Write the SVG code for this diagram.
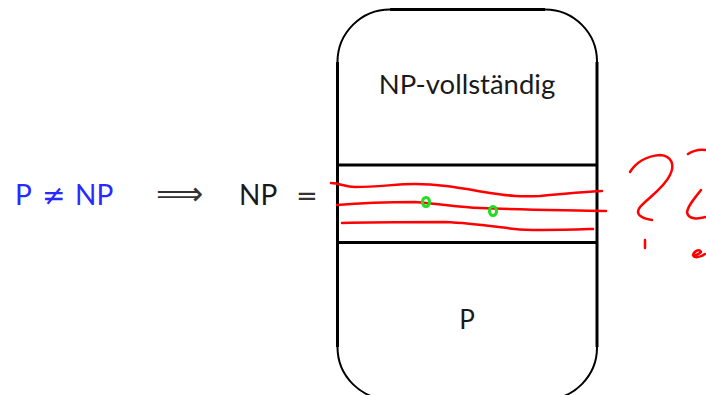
<svg xmlns="http://www.w3.org/2000/svg" width="706" height="395" viewBox="0 0 706 395">
<style>
.lbl{font-family:Lato,"Liberation Sans",sans-serif;fill:#1a1a1a}
.sym{font-family:"DejaVu Sans",sans-serif}
.blue{fill:#2a2aff}
.box{fill:none;stroke:#000;stroke-width:3}
.arc{fill:none;stroke:#000;stroke-width:2}
.red{fill:none;stroke:#ff0000;stroke-width:2.5;stroke-linecap:round;stroke-linejoin:round}
.grn{fill:none;stroke:#22dd22;stroke-width:3.2}
</style>
<rect width="706" height="395" fill="#fff"/>
<g id="formula">
<text x="15" y="205" class="lbl blue" font-size="28">P</text>
<text x="42" y="205" class="sym blue" font-size="28">≠</text>
<text x="75" y="205" class="lbl blue" font-size="28">NP</text>
<text x="156" y="205" class="sym" font-size="33" fill="#333">⟹</text>
<text x="239" y="205" class="lbl" font-size="28">NP</text>
<text x="296" y="205" class="sym" font-size="26" fill="#333">=</text>
</g>
<g id="np-box">
<path class="arc" d="M337.5 62 A52.5 52.5 0 0 1 390 9.5 M545 9.5 A52 52 0 0 1 597 62 M337.5 347 A52.5 52.5 0 0 0 390 399.5 M545 399.5 A52 52 0 0 0 597 347"/>
<path class="box" d="M390 9.5 H545 M337.5 62 V347 M597 62 V347 M337.5 165 H597 M337.5 242.5 H597"/>
</g>
<g id="np-complete"><text x="467" y="94" class="lbl" font-size="27.5" text-anchor="middle">NP-vollständig</text></g>
<g id="p-class"><text x="467" y="329" class="lbl" font-size="26" text-anchor="middle">P</text></g>
<g id="scribbles">
<path class="red" d="M331 183 C340 183 345 187 355 187 C380 187 395 184 415 184 C440 184 460 188 490 193 C510 196 520 197 540 196 C560 194 580 192 602 191"/>
<path class="red" d="M337 205 C360 203 390 202 415 202 C440 204 460 207 480 208 C520 210 560 210 606 211"/>
<path class="red" d="M342 223 C370 222 400 222 445 222 C470 223 490 226 515 229 C530 231 560 230 593 229"/>
<ellipse class="grn" cx="426" cy="202" rx="3.5" ry="4.5"/>
<ellipse class="grn" cx="493" cy="211" rx="3.5" ry="4.5"/>
<path class="red" d="M630 172 C635 164 645 156 660 155 C672 156 675 165 670 175 C664 188 648 198 640 207 C635 214 640 218 652 220"/>
<path class="red" d="M645 240 L645 248"/>
<path class="red" d="M688 154 C694 150 700 149 706 150"/>
<path class="red" d="M701 190 C695 198 688 205 687 212 C688 220 698 219 706 217"/>
<path class="red" d="M693 255 C695 250 700 249 701 252 C698 255 694 256 693 255 C694 258 700 258 705 254"/>
</g>
</svg>
